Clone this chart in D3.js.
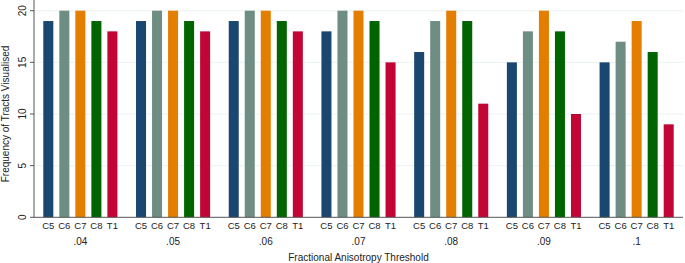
<!DOCTYPE html>
<html><head><meta charset="utf-8">
<script src="https://cdn.jsdelivr.net/npm/d3@7"></script>
<style>body{margin:0;background:#fff}svg{display:block}text{font-family:"Liberation Sans",Arial,sans-serif;fill:#222}</style>
</head><body>
<svg id="c" width="685" height="263"></svg>
<script>
const thresholds = [".04", ".05", ".06", ".07", ".08", ".09", ".1"];
const tracts = ["C5", "C6", "C7", "C8", "T1"];
const C5 = [19, 19, 19, 18, 16, 15, 15];
const C6 = [20, 20, 20, 20, 19, 18, 17];
const C7 = [20, 20, 20, 20, 20, 20, 19];
const C8 = [19, 19, 19, 19, 19, 18, 16];
const T1 = [18, 18, 18, 15, 11, 10, 9];
const yTicks = [0, 5, 10, 15, 20];
const colors = ["#1a476f", "#6e8e84", "#e37e00", "#006400", "#c10534"];

const series = [C5, C6, C7, C8, T1];
const svg = d3.select("#c");
const L = 34, R = 683, B = 217.3, T = 10.7;
const x0 = d3.scaleBand().domain(thresholds).range([L, R]).padding(0);
const x1 = d3.scaleBand().domain(tracts).range([9.3, x0.bandwidth() - 9.3]).paddingInner(0.375).paddingOuter(0);
const y = d3.scaleLinear().domain([0, 20]).range([B, T]);

// gridlines
svg.append("g").selectAll("line").data(yTicks.filter(d => d > 0)).join("line")
  .attr("x1", L).attr("x2", R).attr("y1", d => y(d)).attr("y2", d => y(d))
  .attr("stroke", "#eaf2f3").attr("stroke-width", 1);

// bars
const g = svg.append("g").selectAll("g").data(thresholds).join("g")
  .attr("transform", d => `translate(${x0(d)},0)`);
g.selectAll("rect").data((d, i) => tracts.map((t, j) => ({t, j, v: series[j][i]}))).join("rect")
  .attr("x", d => x1(d.t)).attr("width", x1.bandwidth())
  .attr("y", d => y(d.v)).attr("height", d => y(0) - y(d.v))
  .attr("fill", d => colors[d.j]);

// tract labels
g.selectAll("text").data(tracts).join("text")
  .attr("x", d => x1(d) + x1.bandwidth() / 2).attr("y", 229)
  .attr("text-anchor", "middle").attr("font-size", 9.5).text(d => d);

// threshold labels
svg.append("g").selectAll("text").data(thresholds).join("text")
  .attr("x", d => x0(d) + x0.bandwidth() / 2).attr("y", 244.5)
  .attr("text-anchor", "middle").attr("font-size", 10).text(d => d);

// axes lines
svg.append("line").attr("x1", L).attr("x2", R).attr("y1", B).attr("y2", B).attr("stroke", "#555").attr("stroke-width", 1);
svg.append("line").attr("x1", L).attr("x2", L).attr("y1", 0).attr("y2", B).attr("stroke", "#555").attr("stroke-width", 1);
const yAxis = svg.append("g");
yAxis.selectAll("line").data(yTicks).join("line")
  .attr("x1", L - 4).attr("x2", L).attr("y1", d => y(d)).attr("y2", d => y(d)).attr("stroke", "#555");
yAxis.selectAll("text").data(yTicks).join("text")
  .attr("transform", d => `translate(25.5,${y(d)}) rotate(-90)`)
  .attr("text-anchor", "middle").attr("font-size", 10).text(d => d);

svg.append("text").attr("transform", `translate(8.5,114) rotate(-90)`)
  .attr("text-anchor", "middle").attr("font-size", 10).text("Frequency of Tracts Visualised");
svg.append("text").attr("x", (L + R) / 2).attr("y", 260.5)
  .attr("text-anchor", "middle").attr("font-size", 10).text("Fractional Anisotropy Threshold");
</script>
</body></html>
